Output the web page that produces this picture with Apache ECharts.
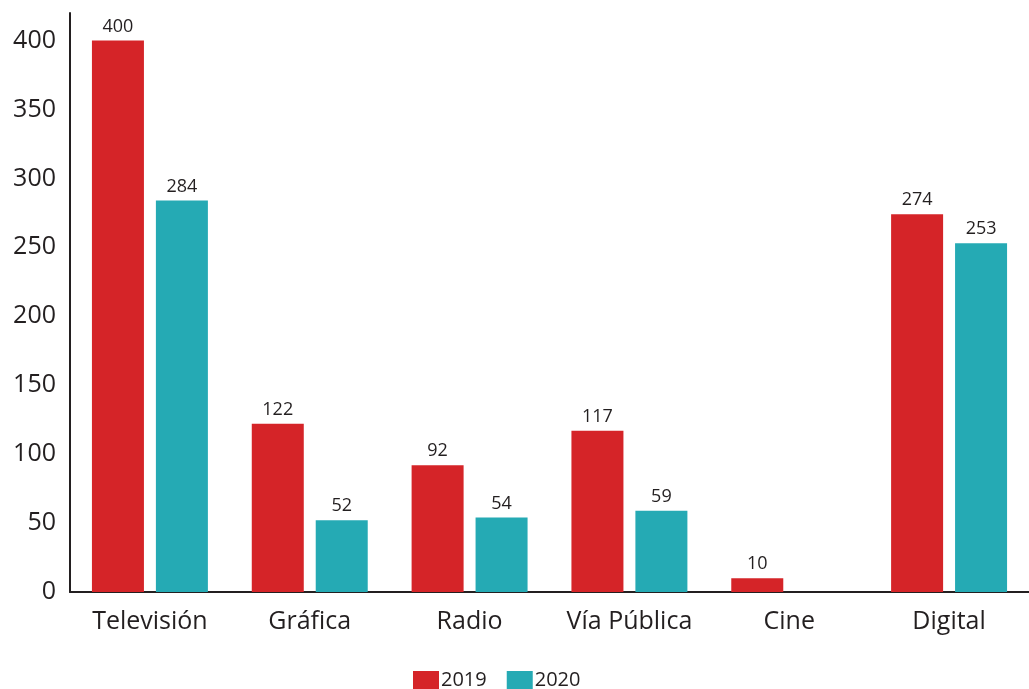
<!DOCTYPE html>
<html><head><meta charset="utf-8">
<script src="https://cdn.jsdelivr.net/npm/echarts@6/dist/echarts.min.js"></script>
<style>html,body{margin:0;padding:0;background:#fff}#c{width:1029px;height:689px}</style>
</head><body><div id="c"></div>
<script>
var categories = ['Televisión', 'Gráfica', 'Radio', 'Vía Pública', 'Cine', 'Digital'];
var values2019 = [400, 122, 92, 117, 10, 274];
var values2020 = [284, 52, 54, 59, '-', 253];
var yTicks = [0, 50, 100, 150, 200, 250, 300, 350, 400];

var FONT = 'Open Sans';
var TXT = '#231f20';
var chart = echarts.init(document.getElementById('c'));
chart.setOption({
  animation: false,
  textStyle: {fontFamily: FONT},
  grid: {left: 70, right: 0, top: 13, bottom: 97, containLabel: false},
  legend: {
    left: 413, top: 670, itemWidth: 26, itemHeight: 18, itemGap: 20, padding: 0,
    icon: 'rect',
    textStyle: {fontFamily: FONT, fontSize: 20, lineHeight: 18, color: TXT, padding: [0, 0, 0, -3]},
    data: ['2019', '2020']
  },
  xAxis: {
    type: 'category', data: categories,
    axisLine: {lineStyle: {color: TXT, width: 2}},
    axisTick: {show: false},
    axisLabel: {interval: 0, fontFamily: FONT, fontSize: 25, color: TXT, margin: 17}
  },
  yAxis: {
    type: 'value', min: 0, max: 420, interval: 50,
    axisLine: {show: true, lineStyle: {color: TXT, width: 2}},
    axisTick: {show: false},
    splitLine: {show: false},
    axisLabel: {fontFamily: FONT, fontSize: 25, color: TXT, margin: 14, showMaxLabel: false,
      formatter: function (v) { return yTicks.indexOf(v) >= 0 ? v : ''; }}
  },
  series: [
    {name: '2019', type: 'bar', data: values2019, barWidth: 52, barGap: '23%',
     itemStyle: {color: '#d52428'},
     label: {show: true, position: 'top', distance: 5, fontFamily: FONT, fontSize: 18, color: TXT}},
    {name: '2020', type: 'bar', data: values2020, barWidth: 52,
     itemStyle: {color: '#25aab4'},
     label: {show: true, position: 'top', distance: 5, fontFamily: FONT, fontSize: 18, color: TXT}}
  ]
});
</script></body></html>
